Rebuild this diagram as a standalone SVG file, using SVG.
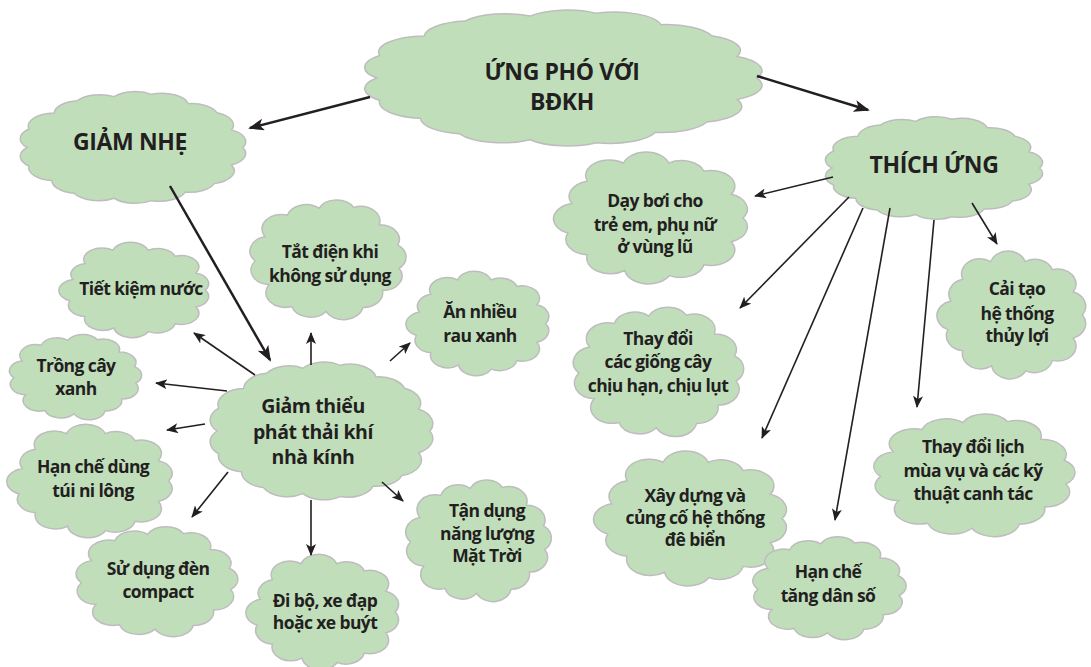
<svg xmlns="http://www.w3.org/2000/svg" xmlns:xlink="http://www.w3.org/1999/xlink" width="1091" height="667" viewBox="0 0 1091 667">
<style>
.cloud{fill:#c1debb;stroke:#bdbdbd;stroke-width:1.5}
.t{font-family:"Open Sans","Liberation Sans",sans-serif;font-weight:700;font-size:17.5px;fill:#231f20;text-anchor:middle;letter-spacing:-0.6px}
.h{font-family:"Open Sans","Liberation Sans",sans-serif;font-weight:700;font-size:23px;fill:#231f20;text-anchor:middle;letter-spacing:-0.4px}
.m{font-family:"Open Sans","Liberation Sans",sans-serif;font-weight:700;font-size:19.5px;fill:#231f20;text-anchor:middle;letter-spacing:-0.4px}
.big{stroke:#231f20;stroke-width:2.5;fill:none;marker-end:url(#ahB)}
.thin{stroke:#231f20;stroke-width:1.6;fill:none;marker-end:url(#ahS)}
</style>
<defs>
<path id="cA" vector-effect="non-scaling-stroke" d="M45,0 A12,12 0 0 1 39,18.2 A12,12 0 0 1 25.2,36 A12,12 0 0 1 7.8,44.3 A12,12 0 0 1 -14.7,40.4 A12,12 0 0 1 -33.7,28.3 A12,12 0 0 1 -43.5,11.6 A12,12 0 0 1 -41.5,-11.1 A12,12 0 0 1 -33.7,-28.3 A12,12 0 0 1 -15.4,-42.3 A12,12 0 0 1 7.5,-42.3 A12,12 0 0 1 25.2,-36 A12,12 0 0 1 39,-18.2 A12,12 0 0 1 45,0 Z"/>
<path id="cB" vector-effect="non-scaling-stroke" d="M43.3,7.6 A12,12 0 0 1 33.1,25.9 A12,12 0 0 1 21.1,39.7 A12,12 0 0 1 -1.5,43 A12,12 0 0 1 -22.5,39 A12,12 0 0 1 -36.4,21 A12,12 0 0 1 -45,1.6 A12,12 0 0 1 -39,-18.2 A12,12 0 0 1 -25.2,-36 A12,12 0 0 1 -5.8,-41.6 A12,12 0 0 1 15.4,-42.3 A12,12 0 0 1 31.2,-28.1 A12,12 0 0 1 42.5,-11.4 A12,12 0 0 1 43.3,7.6 Z"/>
<path id="cC" vector-effect="non-scaling-stroke" d="M45,0 A11,11 0 0 1 40.4,14.7 A11,11 0 0 1 33.4,30.1 A11,11 0 0 1 21.5,37.2 A11,11 0 0 1 7.8,44.3 A11,11 0 0 1 -7.5,42.3 A11,11 0 0 1 -23.8,38.2 A11,11 0 0 1 -32.9,27.6 A11,11 0 0 1 -42.3,15.4 A11,11 0 0 1 -43,0 A11,11 0 0 1 -42.3,-15.4 A11,11 0 0 1 -32,-28.8 A11,11 0 0 1 -22.5,-39 A11,11 0 0 1 -7.5,-42.4 A11,11 0 0 1 7.8,-44.3 A11,11 0 0 1 22.8,-36.5 A11,11 0 0 1 34.5,-28.9 A11,11 0 0 1 40.4,-14.7 A11,11 0 0 1 45,0 Z"/>
<marker id="ahB" viewBox="0 0 16 12" refX="14" refY="6" markerWidth="16" markerHeight="12" markerUnits="userSpaceOnUse" orient="auto"><path d="M0,0 L16,6 L0,12 L4,6 Z" fill="#231f20"/></marker>
<marker id="ahS" viewBox="0 0 12 10" refX="11" refY="5" markerWidth="12" markerHeight="10" markerUnits="userSpaceOnUse" orient="auto"><path d="M0,0 L12,5 L0,10 L3,5 Z" fill="#231f20"/></marker>
</defs>

<g id="n-ungpho"><use href="#cC" class="cloud" transform="translate(562.5,78) scale(4.32,1.46)"/><text class="h"><tspan x="562" y="80">ỨNG PHÓ VỚI</tspan><tspan x="562" y="110">BĐKH</tspan></text></g>
<g id="n-giamnhe"><use href="#cC" class="cloud" transform="translate(132.5,147.5) scale(2.45,1.2)"/><text class="h"><tspan x="130" y="150">GIẢM NHẸ</tspan></text></g>
<g id="n-thichung"><use href="#cC" class="cloud" transform="translate(933.5,168) scale(2.36,1.1)"/><text class="h"><tspan x="934" y="173">THÍCH ỨNG</tspan></text></g>

<g id="n-tietkiem"><use href="#cA" class="cloud" transform="translate(136.5,290) scale(1.53,0.94)"/><text class="t"><tspan x="141" y="295">Tiết kiệm nước</tspan></text></g>
<g id="n-trongcay"><use href="#cB" class="cloud" transform="translate(76,376.5) scale(1.38,0.87)"/><text class="t"><tspan x="76" y="372">Trồng cây</tspan><tspan x="76" y="395">xanh</tspan></text></g>
<g id="n-tatdien"><use href="#cB" class="cloud" transform="translate(328.5,259) scale(1.63,1.22)"/><text class="t"><tspan x="330" y="258">Tắt điện khi</tspan><tspan x="330" y="282">không sử dụng</tspan></text></g>
<g id="n-annhieu"><use href="#cA" class="cloud" transform="translate(480,323.5) scale(1.46,1.03)"/><text class="t"><tspan x="480" y="318">Ăn nhiều</tspan><tspan x="480" y="342">rau xanh</tspan></text></g>
<g id="n-giamthieu"><use href="#cC" class="cloud" transform="translate(321,431) scale(2.42,1.48)"/><text class="m"><tspan x="313" y="413">Giảm thiểu</tspan><tspan x="313" y="439">phát thải khí</tspan><tspan x="313" y="464">nhà kính</tspan></text></g>
<g id="n-hanchetui"><use href="#cA" class="cloud" transform="translate(92.5,481) scale(1.69,1.12)"/><text class="t"><tspan x="93" y="473">Hạn chế dùng</tspan><tspan x="93" y="497">túi ni lông</tspan></text></g>
<g id="n-sudungden"><use href="#cB" class="cloud" transform="translate(157.5,581) scale(1.69,1.12)"/><text class="t"><tspan x="158" y="575">Sử dụng đèn</tspan><tspan x="158" y="598">compact</tspan></text></g>
<g id="n-dibo"><use href="#cA" class="cloud" transform="translate(325,612) scale(1.56,1.14)"/><text class="t"><tspan x="325" y="607">Đi bộ, xe đạp</tspan><tspan x="325" y="629">hoặc xe buýt</tspan></text></g>
<g id="n-tandung"><use href="#cB" class="cloud" transform="translate(479,540) scale(1.52,1.24)"/><text class="t"><tspan x="487" y="517">Tận dụng</tspan><tspan x="487" y="540">năng lượng</tspan><tspan x="487" y="562">Mặt Trời</tspan></text></g>

<g id="n-dayboi"><use href="#cA" class="cloud" transform="translate(654,218) scale(1.98,1.3)"/><text class="t"><tspan x="655" y="207">Dạy bơi cho</tspan><tspan x="655" y="231">trẻ em, phụ nữ</tspan><tspan x="655" y="253">ở vùng lũ</tspan></text></g>
<g id="n-thaydoigiong"><use href="#cB" class="cloud" transform="translate(659,371) scale(1.78,1.32)"/><text class="t"><tspan x="658" y="345">Thay đổi</tspan><tspan x="658" y="368">các giống cây</tspan><tspan x="658" y="392">chịu hạn, chịu lụt</tspan></text></g>
<g id="n-xaydung"><use href="#cA" class="cloud" transform="translate(693.5,518.5) scale(1.97,1.33)"/><text class="t"><tspan x="695" y="502">Xây dựng và</tspan><tspan x="695" y="524">củng cố hệ thống</tspan><tspan x="695" y="546">đê biển</tspan></text></g>
<g id="n-hanchedanso"><use href="#cB" class="cloud" transform="translate(830,587.5) scale(1.6,1.05)"/><text class="t"><tspan x="828" y="578">Hạn chế</tspan><tspan x="828" y="602">tăng dân số</tspan></text></g>
<g id="n-caitao"><use href="#cA" class="cloud" transform="translate(1014,315) scale(1.52,1.26)"/><text class="t"><tspan x="1017" y="295">Cải tạo</tspan><tspan x="1017" y="320">hệ thống</tspan><tspan x="1017" y="342">thủy lợi</tspan></text></g>
<g id="n-thaydoilich"><use href="#cB" class="cloud" transform="translate(975,474.5) scale(2.1,1.25)"/><text class="t"><tspan x="973" y="453">Thay đổi lịch</tspan><tspan x="973" y="477">mùa vụ và các kỹ</tspan><tspan x="973" y="500">thuật canh tác</tspan></text></g>

<g id="connectors">
<line class="big" x1="370" y1="97" x2="250" y2="128"/>
<line class="big" x1="757" y1="76" x2="868" y2="110"/>
<line class="big" x1="170" y1="186" x2="270" y2="360"/>
<line class="thin" x1="255" y1="375" x2="194" y2="333"/>
<line class="thin" x1="227" y1="391" x2="156" y2="383"/>
<line class="thin" x1="205" y1="424" x2="167" y2="430"/>
<line class="thin" x1="228" y1="472" x2="192" y2="517"/>
<line class="thin" x1="311" y1="500" x2="311" y2="555"/>
<line class="thin" x1="382" y1="482" x2="403" y2="501"/>
<line class="thin" x1="311" y1="365" x2="311" y2="333"/>
<line class="thin" x1="390" y1="361" x2="410" y2="343"/>
<line class="thin" x1="833" y1="177" x2="755" y2="196"/>
<line class="thin" x1="849" y1="197" x2="740" y2="308"/>
<line class="thin" x1="863" y1="208" x2="762" y2="438"/>
<line class="thin" x1="890" y1="208" x2="835" y2="520"/>
<line class="thin" x1="934" y1="220" x2="917" y2="407"/>
<line class="thin" x1="972" y1="203" x2="997" y2="244"/>
</g>
</svg>
